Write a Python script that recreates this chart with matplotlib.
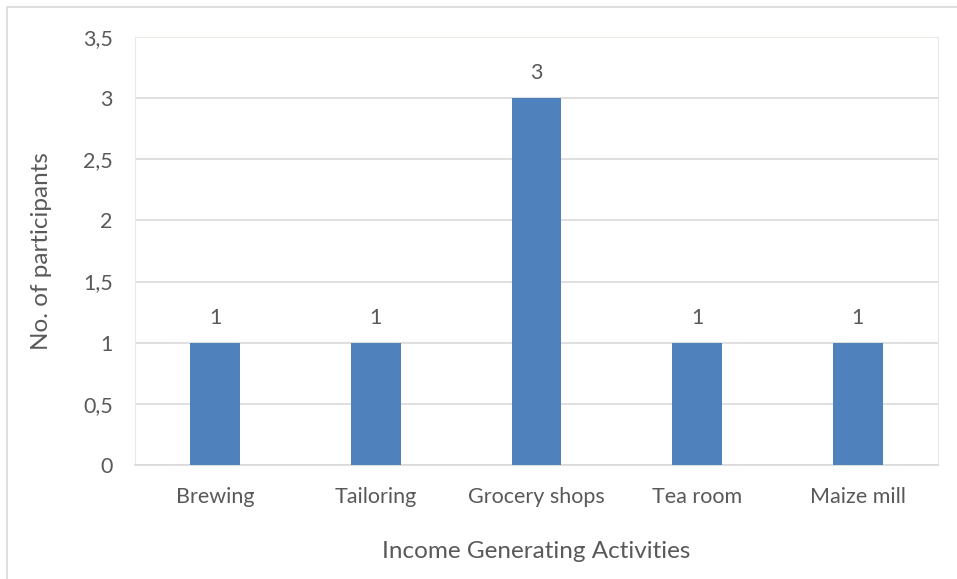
import matplotlib
matplotlib.use("Agg")
import matplotlib.pyplot as plt
from matplotlib.patches import Rectangle
from matplotlib.ticker import FuncFormatter, MultipleLocator

categories = ["Brewing", "Tailoring", "Grocery shops", "Tea room", "Maize mill"]
participants = [1, 1, 3, 1, 1]

text_color = "#595959"
plt.rcParams["font.family"] = ["Lato", "DejaVu Sans"]

fig = plt.figure(figsize=(9.57, 5.79), dpi=100)
ax = fig.add_axes([135 / 957, 114 / 579, 803 / 957, 428 / 579])

# outer chart frame (only top/left visible in the reference)
fig.patches.append(Rectangle((7 / 957, -0.05), 1.1, (579 - 7) / 579 + 0.05,
                             transform=fig.transFigure, fill=False,
                             edgecolor="#d9d9d9", linewidth=1.2))

x = range(len(categories))
bars = ax.bar(x, participants, width=0.31, color="#4f81bd", zorder=3)
for b, v in zip(bars, participants):
    ax.text(b.get_x() + b.get_width() / 2, v + 0.12, str(v), ha="center",
            va="bottom", fontsize=15.5, color=text_color)

ax.set_xlim(-0.5, len(categories) - 0.5)
ax.set_ylim(0, 3.5)
ax.yaxis.set_major_locator(MultipleLocator(0.5))
ax.yaxis.set_major_formatter(FuncFormatter(
    lambda v, _: f"{v:g}".replace(".", ",")))
ax.set_xticks(list(x))
ax.set_xticklabels(categories)
ax.tick_params(length=0, labelsize=15.5, colors=text_color, pad=16)
ax.tick_params(axis="y", pad=16)

ax.grid(axis="y", color="#d9d9d9", linewidth=1.2, zorder=0)
for side in ["left", "right", "top"]:
    ax.spines[side].set_color("#ece9e0")
ax.spines["bottom"].set_color("#d9d9d9")
ax.spines["bottom"].set_linewidth(1.2)

ax.set_ylabel("No. of participants", fontsize=17.5, color=text_color, labelpad=22)
ax.set_xlabel("Income Generating Activities", fontsize=17.5, color=text_color,
              labelpad=24)

fig.savefig("out.png", dpi=100)
